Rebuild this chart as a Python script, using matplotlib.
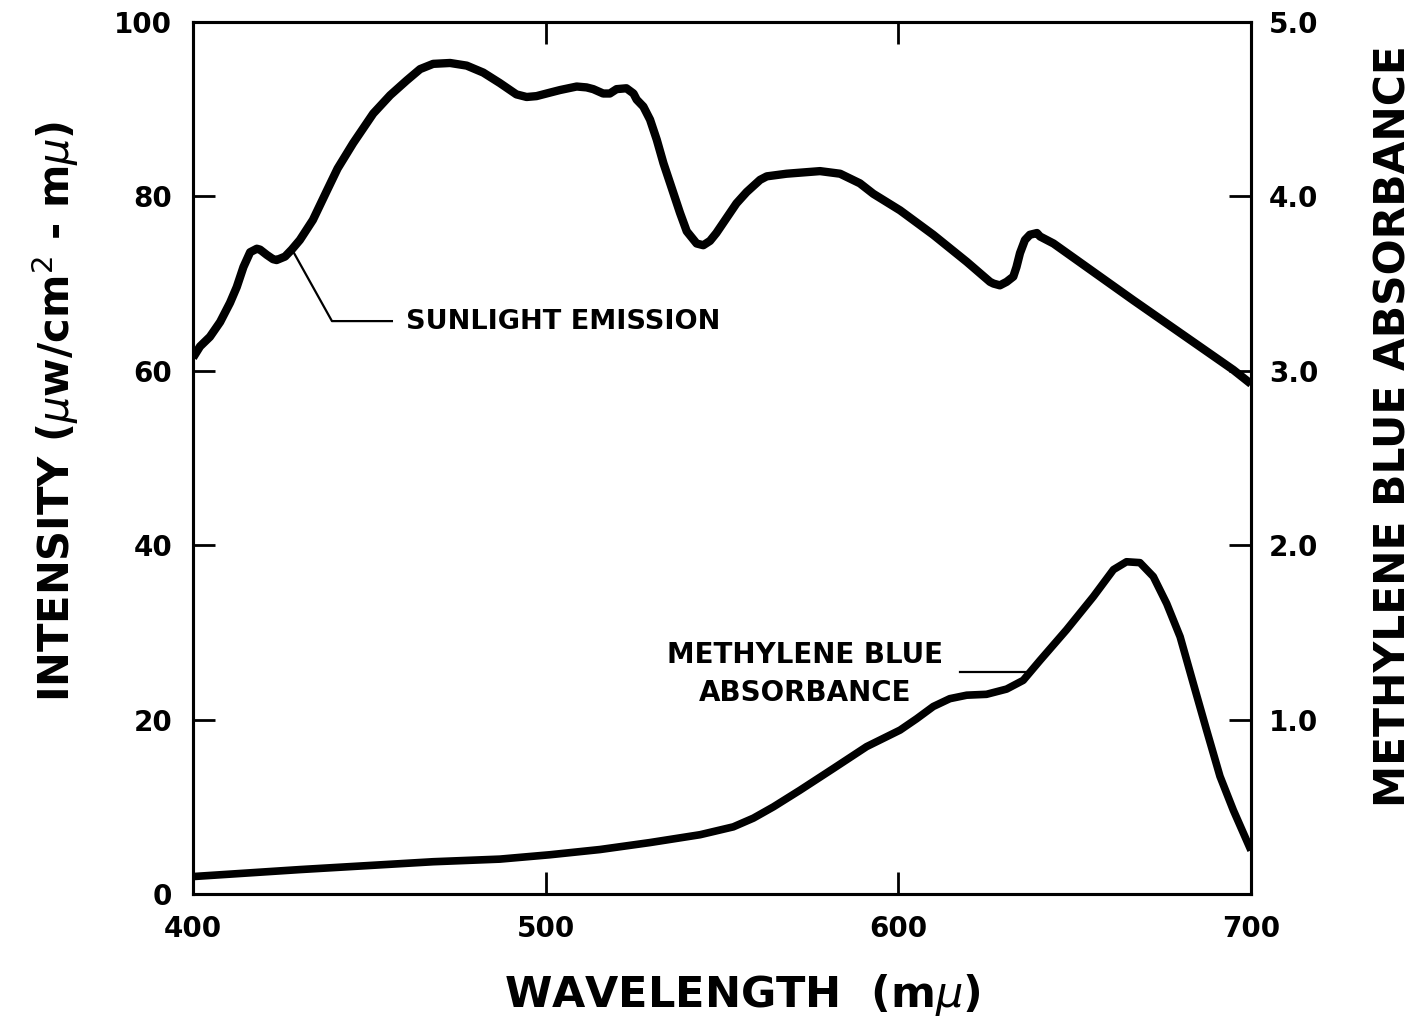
import matplotlib
matplotlib.use("Agg")
import matplotlib.pyplot as plt

plt.rcParams['font.family'] = ['DejaVu Sans']
plt.rcParams['mathtext.fontset'] = 'dejavusans'

# Sunlight emission spectrum (intensity, left axis)
sun_wavelength = [400, 402, 404.8, 407.7, 410.5, 412.4, 414.3, 416.2, 418.1, 419,
                  420.9, 422.7, 423.7, 426.1, 428.0, 430.3, 434, 437.9, 441.0,
                  445.4, 451.1, 455.9, 460.6, 464.4, 468.1, 472.9, 477.6, 482.3,
                  487.0, 491.7, 494.6, 497.4, 501.2, 504.1, 508.8, 511.6, 513.5,
                  516.3, 518.2, 520.1, 522.9, 524.9, 525.8, 527.7, 529.6, 531.5,
                  533.4, 535.3, 538.1, 540.0, 542.8, 544.7, 546.6, 548.4, 554.1,
                  557.0, 560.8, 562.7, 568.3, 577.8, 583.5, 589.1, 592.9, 600.5,
                  609.9, 619.4, 626.0, 627.0, 628.8, 630.7, 632.6, 633.5, 634.5,
                  635.9, 637.3, 639.3, 640.2, 644.0, 666.6, 695.0, 700]
sun_intensity = [61.5, 62.8, 63.9, 65.6, 67.8, 69.6, 71.9, 73.6, 74.0, 73.9,
                 73.3, 72.8, 72.7, 73.1, 73.9, 75.0, 77.3, 80.6, 83.2,
                 86.1, 89.5, 91.6, 93.3, 94.6, 95.2, 95.3, 95.0, 94.2,
                 93.0, 91.7, 91.4, 91.5, 91.9, 92.2, 92.6, 92.5, 92.3,
                 91.8, 91.8, 92.3, 92.4, 91.8, 91.1, 90.3, 88.8, 86.5,
                 83.8, 81.5, 78.1, 76.0, 74.6, 74.4, 74.9, 75.8, 79.2,
                 80.5, 81.9, 82.3, 82.6, 82.9, 82.6, 81.5, 80.3, 78.4,
                 75.6, 72.5, 70.2, 70.0, 69.8, 70.2, 70.8, 71.9, 73.5,
                 75.0, 75.6, 75.8, 75.4, 74.6, 68.1, 60.1, 58.5]

# Methylene blue absorbance spectrum (right axis)
mb_wavelength = [400, 430.3, 468.1, 487.0, 501.2, 515.4, 529.6, 543.8, 553.2,
                 558.9, 564.6, 572.1, 581.6, 591.0, 600.5, 605.2, 609.9, 614.6,
                 619.4, 625.0, 630.7, 635.4, 640.2, 647.7, 655.3, 661.0, 664.7,
                 668.5, 672.3, 676.1, 679.9, 683.6, 687.4, 691.2, 695.0, 700]
mb_absorbance = [0.100, 0.140, 0.185, 0.200, 0.225, 0.255, 0.295, 0.340, 0.385,
                 0.435, 0.500, 0.595, 0.720, 0.845, 0.940, 1.005, 1.075, 1.120,
                 1.140, 1.145, 1.175, 1.225, 1.340, 1.515, 1.705, 1.860, 1.905,
                 1.900, 1.820, 1.665, 1.475, 1.210, 0.940, 0.675, 0.480, 0.250]

x_ticks = [400, 500, 600, 700]
y_ticks = [0, 20, 40, 60, 80, 100]
abs_ticks = [1.0, 2.0, 3.0, 4.0, 5.0]
abs_tick_labels = ["1.0", "2.0", "3.0", "4.0", "5.0"]

fig = plt.figure(figsize=(14.17, 10.31), dpi=100)
ax = fig.add_axes([193 / 1417, 137 / 1031, 1058 / 1417, 872 / 1031])
ax2 = ax.twinx()

ax.plot(sun_wavelength, sun_intensity, color='black', lw=6,
        solid_joinstyle='round', solid_capstyle='butt', zorder=3)
ax2.plot(mb_wavelength, mb_absorbance, color='black', lw=5.5,
         solid_joinstyle='round', solid_capstyle='butt', zorder=3)

ax.set_xlim(400, 700)
ax.set_ylim(0, 100)
ax2.set_ylim(0, 5)

ax.set_xticks(x_ticks)
ax.set_xticklabels([str(v) for v in x_ticks])
ax.set_yticks(y_ticks)
ax.set_yticklabels([str(v) for v in y_ticks])
ax2.set_yticks(abs_ticks)
ax2.set_yticklabels(abs_tick_labels)

for spine in list(ax.spines.values()) + list(ax2.spines.values()):
    spine.set_linewidth(2.2)

tick_font = dict(labelsize=20)
ax.tick_params(axis='x', which='both', direction='in', length=16, width=2,
               top=True, bottom=True, pad=15, **tick_font)
ax.tick_params(axis='y', which='both', direction='in', length=16, width=2,
               left=True, right=False, pad=15, **tick_font)
ax2.tick_params(axis='y', which='both', direction='in', length=16, width=2,
                left=False, right=True, pad=13, **tick_font)
for lab in ax.get_xticklabels() + ax.get_yticklabels() + ax2.get_yticklabels():
    lab.set_fontweight('bold')

# Leader lines and curve labels
ax.plot([428.1, 439.4, 456.4], [73.9, 65.7, 65.7], color='black', lw=1.6, zorder=2)
ax.text(460.5, 65.6, "SUNLIGHT EMISSION", fontsize=19.5, fontweight='bold',
        ha='left', va='center')

ax.plot([617.5, 637.5], [25.5, 25.5], color='black', lw=1.6, zorder=2)
ax.text(573.5, 27.4, "METHYLENE BLUE", fontsize=20, fontweight='bold',
        ha='center', va='center')
ax.text(573.5, 23.0, "ABSORBANCE", fontsize=20, fontweight='bold',
        ha='center', va='center')

# Axis titles
fig.text(742 / 1417, 1 - 995 / 1031, "WAVELENGTH  (m$\\mu$)", fontsize=31,
         fontweight='bold', ha='center', va='center')
fig.text(55 / 1417, 1 - 411 / 1031, "INTENSITY ($\\mu$w/cm$^{2}$ - m$\\mu$)",
         fontsize=30, fontweight='bold', ha='center', va='center', rotation=90)
fig.text(1393 / 1417, 1 - 426 / 1031, "METHYLENE BLUE ABSORBANCE", fontsize=30.5,
         fontweight='bold', ha='center', va='center', rotation=90)

fig.savefig("out.png", dpi=100, facecolor='white')
